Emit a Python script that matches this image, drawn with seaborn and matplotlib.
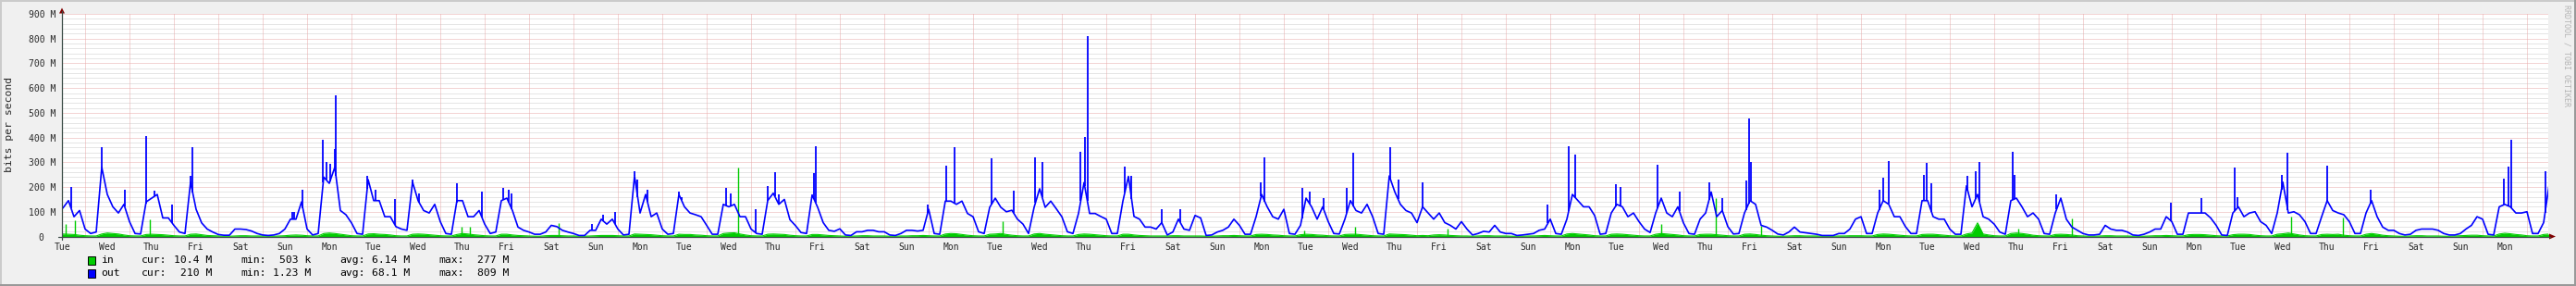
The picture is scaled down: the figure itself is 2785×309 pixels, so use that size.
import numpy as np
import pandas as pd
import matplotlib
matplotlib.use("Agg")
import matplotlib.pyplot as plt
from matplotlib.patches import Rectangle, Polygon
from matplotlib.lines import Line2D
import seaborn as sns

# ---------------- data (values in Mbit/s) ----------------
# samples every 3 hours; day 0 = first Tuesday, samples at 0,3,...,21 h
weekday_names = ["Tue", "Wed", "Thu", "Fri", "Sat", "Sun", "Mon"]

out_head = [110, 115, 145, 80, 105]          # Tue 09..21 h
out_week1 = [30, 12, 18, 280, 170, 120, 95, 130,
             60, 12, 10, 140, 155, 170, 75, 75,
             45, 18, 12, 220, 110, 55, 30, 18,
             8, 5, 5, 30, 30, 28, 22, 12,
             6, 4, 6, 12, 30, 70, 70, 140,
             30, 6, 12, 240, 215, 280, 105, 88,
             55, 12, 9, 230, 145, 145, 80, 80]
out_week2 = [40, 30, 25, 220, 145, 105, 95, 130,
             60, 12, 9, 145, 145, 80, 80, 105,
             50, 12, 18, 145, 155, 105, 38, 25,
             18, 9, 9, 18, 45, 40, 25, 18,
             12, 4, 4, 25, 25, 70, 50, 70,
             30, 6, 9, 245, 95, 170, 80, 95,
             30, 9, 12, 170, 120, 95, 88, 80]
out_week3 = [45, 9, 9, 130, 120, 130, 80, 80,
             30, 12, 9, 145, 175, 130, 150, 68,
             44, 16, 12, 168, 118, 56, 25, 21,
             31, 6, 4, 19, 19, 25, 25, 19,
             19, 6, 4, 12, 25, 25, 22, 25,
             110, 12, 9, 143, 143, 130, 143, 93,
             80, 19, 12, 118, 155, 118, 100, 106]
out_week4 = [70, 50, 12, 118, 193, 118, 143, 112,
             80, 19, 12, 93, 218, 93, 93, 81,
             70, 12, 12, 143, 243, 81, 70, 38,
             38, 30, 56, 6, 18, 70, 30, 25,
             85, 75, 4, 6, 18, 25, 38, 70,
             45, 9, 9, 80, 170, 120, 80, 70,
             110, 12, 9, 45, 155, 120, 70, 120]
out_week5 = [60, 12, 10, 70, 145, 105, 95, 130,
             80, 12, 9, 245, 180, 130, 105, 95,
             56, 120, 95, 70, 95, 56, 45, 30,
             60, 30, 6, 12, 21, 18, 45, 18,
             12, 12, 4, 6, 9, 12, 25, 30,
             70, 12, 9, 70, 170, 145, 120, 120,
             85, 9, 12, 95, 130, 120, 80, 95]
out_week6 = [60, 30, 16, 95, 155, 95, 80, 120,
             55, 12, 9, 70, 95, 180, 80, 105,
             40, 10, 12, 95, 145, 130, 45, 38,
             25, 10, 6, 18, 38, 18, 15, 12,
             9, 4, 4, 4, 12, 12, 30, 70,
             80, 12, 12, 95, 145, 130, 80, 80,
             40, 12, 12, 145, 145, 80, 70, 70]
out_week7 = [30, 9, 9, 205, 120, 170, 80, 70,
             50, 18, 9, 145, 155, 120, 80, 95,
             70, 12, 9, 95, 155, 70, 38, 25,
             12, 6, 6, 9, 45, 30, 25, 25,
             18, 6, 4, 9, 18, 30, 30, 80,
             60, 9, 9, 95, 95, 95, 95, 75,
             45, 6, 4, 95, 120, 80, 95, 100]
out_week8 = [60, 45, 12, 95, 220, 95, 100, 88,
             60, 12, 12, 80, 145, 105, 95, 88,
             60, 12, 12, 95, 145, 80, 38, 25,
             25, 12, 6, 9, 25, 30, 30, 30,
             25, 12, 6, 6, 12, 30, 45, 80,
             70, 9, 6, 120, 130, 120, 95, 95,
             100, 12, 12, 56, 210]

in_head = [8, 10, 9, 8, 5]
in_week1 = [3, 2, 2, 10, 14, 12, 10, 6,
            3, 2, 2, 8, 9, 8, 7, 5,
            3, 2, 2, 9, 10, 7, 4, 3,
            2, 1, 1, 2, 3, 3, 2, 2,
            2, 1, 1, 2, 3, 5, 6, 5,
            3, 2, 2, 12, 14, 12, 9, 6,
            3, 2, 2, 10, 11, 9, 8, 6]
in_week2 = [3, 2, 2, 9, 10, 9, 7, 5,
            3, 2, 2, 8, 12, 10, 7, 5,
            3, 2, 2, 9, 9, 6, 4, 3,
            2, 1, 1, 3, 4, 4, 3, 2,
            2, 1, 1, 2, 3, 4, 4, 4,
            3, 2, 2, 10, 9, 8, 7, 5,
            3, 2, 2, 9, 8, 8, 6, 5]
in_week3 = [3, 2, 2, 12, 14, 15, 10, 6,
            3, 2, 2, 9, 10, 9, 8, 5,
            3, 2, 2, 8, 8, 6, 4, 3,
            2, 1, 1, 2, 3, 3, 2, 2,
            2, 1, 1, 2, 2, 3, 3, 4,
            3, 2, 2, 10, 12, 11, 8, 5,
            3, 2, 2, 9, 10, 12, 8, 5]
in_week4 = [3, 2, 2, 10, 12, 9, 7, 5,
            3, 2, 2, 8, 10, 9, 7, 5,
            3, 2, 2, 9, 9, 6, 4, 3,
            2, 2, 2, 2, 3, 3, 2, 2,
            2, 2, 1, 1, 2, 3, 3, 4,
            3, 2, 2, 8, 9, 8, 6, 5,
            3, 2, 2, 7, 9, 8, 6, 5]
in_week5 = [3, 2, 2, 8, 9, 9, 7, 5,
            3, 2, 2, 10, 9, 8, 7, 5,
            3, 4, 3, 6, 7, 6, 4, 3,
            2, 2, 1, 2, 3, 3, 2, 2,
            2, 1, 1, 1, 2, 2, 3, 4,
            3, 2, 2, 10, 12, 10, 8, 6,
            3, 2, 2, 9, 10, 9, 7, 5]
in_week6 = [3, 2, 2, 9, 12, 10, 8, 6,
            3, 2, 2, 8, 9, 9, 7, 5,
            3, 2, 2, 9, 10, 8, 5, 3,
            2, 1, 1, 2, 3, 3, 2, 2,
            2, 1, 1, 1, 2, 2, 3, 3,
            3, 2, 2, 8, 10, 9, 7, 5,
            3, 2, 2, 8, 9, 9, 7, 5]
in_week7 = [3, 2, 2, 10, 14, 55, 10, 6,
            3, 2, 2, 12, 14, 12, 9, 5,
            3, 2, 2, 8, 9, 8, 6, 3,
            2, 1, 1, 2, 3, 3, 2, 2,
            2, 1, 1, 1, 2, 3, 3, 4,
            3, 2, 2, 7, 8, 8, 7, 5,
            3, 2, 2, 7, 9, 9, 8, 5]
in_week8 = [3, 2, 2, 9, 11, 14, 10, 6,
            3, 2, 2, 8, 9, 8, 9, 5,
            3, 2, 2, 9, 12, 9, 5, 3,
            2, 1, 1, 2, 3, 3, 2, 2,
            2, 1, 1, 2, 3, 4, 5, 5,
            3, 2, 2, 10, 13, 11, 8, 6,
            3, 2, 2, 8, 10]

# short bursts: (day index, hour, value)
out_spike_day = [0, 1, 1, 2, 2, 2, 3, 3, 5, 5, 5, 6, 6, 6, 6, 6, 7, 7, 7, 8, 8, 9, 9,
                 10, 10, 10, 12, 12, 12, 13, 13, 13, 14, 14, 15, 15, 16, 16, 16, 16,
                 17, 17, 19, 20, 20, 21, 21, 22, 22, 23, 23, 23, 24, 24, 25, 25, 27, 27,
                 28, 28, 28, 29, 29, 30, 30, 31, 33, 34, 34, 35, 35, 36, 36, 37, 37,
                 38, 38, 38, 41, 41, 41, 42, 42, 42, 43, 43, 43, 44, 44, 45, 47, 48,
                 49, 49, 50, 50, 51, 52, 55, 55, 55, 56]
out_spike_hour = [16.5, 9.0, 21.3, 8.8, 13.3, 23.0, 9.2, 10.2, 16.0, 17.0, 21.7, 8.7, 10.3,
                  12.3, 14.8, 15.6, 8.5, 12.9, 23.5, 9.2, 12.7, 8.8, 22.5, 10.0, 13.0, 14.7,
                  10.0, 15.8, 22.5, 9.0, 10.7, 16.0, 9.0, 10.3, 10.5, 13.0, 2.3, 9.0, 12.8,
                  14.8, 10.0, 10.8, 23.5, 9.7, 13.8, 9.8, 22.0, 9.7, 13.3, 10.2, 12.3, 13.8,
                  10.0, 13.7, 6.0, 16.0, 11.7, 13.7, 9.8, 13.8, 21.5, 10.0, 13.7, 9.7, 13.8,
                  3.2, 22.7, 10.0, 13.7, 11.3, 13.8, 10.0, 21.8, 13.8, 20.8, 9.8, 11.3, 12.7,
                  9.8, 12.0, 14.8, 10.0, 11.3, 14.2, 9.7, 14.0, 16.0, 9.8, 11.2, 9.7, 23.3,
                  16.0, 9.8, 11.7, 11.3, 14.7, 11.8, 11.3, 11.7, 13.8, 15.5, 9.8]
out_spike_val = [200, 360, 190, 405, 185, 130, 245, 360, 100, 100, 190, 390, 300, 295, 355,
                 570, 245, 190, 150, 230, 175, 215, 180, 195, 190, 175, 50, 88, 100, 265,
                 230, 190, 180, 160, 195, 175, 110, 205, 260, 170, 255, 365, 128, 286, 361,
                 317, 187, 320, 302, 342, 402, 809, 283, 245, 112, 109, 220, 319, 195, 180,
                 155, 195, 340, 360, 230, 220, 130, 365, 330, 212, 200, 291, 180, 220, 155,
                 225, 478, 300, 188, 238, 304, 250, 296, 216, 245, 265, 300, 344, 250, 170,
                 138, 155, 278, 160, 250, 338, 288, 188, 234, 281, 390, 265]

in_spike_day = [0, 0, 2, 9, 9, 11, 15, 21, 28, 29, 31, 36, 37, 38, 44, 45, 50, 51]
in_spike_hour = [13.3, 18.3, 11.2, 11.5, 16.2, 16.2, 17.2, 16.2, 11.0, 14.5, 16.5,
                 12.0, 17.7, 18.0, 12.8, 18.0, 16.3, 20.3]
in_spike_val = [50, 65, 69, 40, 40, 56, 277, 62, 25, 40, 30, 50, 154, 44, 30, 72, 80, 75]

y_ticks = [0, 100, 200, 300, 400, 500, 600, 700, 800, 900]
y_tick_labels = ["0  ", "100 M", "200 M", "300 M", "400 M", "500 M",
                 "600 M", "700 M", "800 M", "900 M"]

legend_names = ["in", "out"]
legend_cur = ["10.4 M", "210 M"]
legend_min = ["503 k", "1.23 M"]
legend_avg = ["6.14 M", "68.1 M"]
legend_max = ["277 M", "809 M"]

# ---------------- assemble ----------------
out_vals = np.array(out_head + out_week1 + out_week2 + out_week3 + out_week4 +
                    out_week5 + out_week6 + out_week7 + out_week8, dtype=float)
in_vals = np.array(in_head + in_week1 + in_week2 + in_week3 + in_week4 +
                   in_week5 + in_week6 + in_week7 + in_week8, dtype=float)
n_body = len(out_vals) - len(out_head)
t = np.concatenate([np.array([9, 12, 15, 18, 21]) / 24.0, 1 + np.arange(n_body) * 0.125])
df = pd.DataFrame({"t": t, "out": out_vals, "in": in_vals})

BACK = "#F0F0F0"
CANVAS = "#FFFFFF"
MINOR = "#CDCDCD"
MAJOR = "#E8AAAA"
AXIS = "#3C4D48"
ARROW = "#7F0000"
BLUE = "#0000FF"
GREEN = "#00CC00"

sns.set_style("white")
plt.rcParams["font.family"] = ["DejaVu Sans Mono"]

W, H = 2785, 309
fig = plt.figure(figsize=(W / 100, H / 100), dpi=100, facecolor=BACK)
X0, X1, YB, YT = 67, 2755, 255.5, 15
ax = fig.add_axes([X0 / W, 1 - YB / H, (X1 - X0) / W, (YB - YT) / H])
ax.set_facecolor(CANVAS)
xmin, xmax = 11.5 / 24, 56 + 11.5 / 24
ax.set_xlim(xmin, xmax)
ax.set_ylim(0, 900)

dot = (0, (1, 1))
for v in range(20, 900, 20):
    if v % 100:
        ax.axhline(v, color=MINOR, lw=0.72, ls=dot, zorder=0.5)
for v in y_ticks[1:]:
    ax.axhline(v, color=MAJOR, lw=0.72, ls=dot, zorder=0.6)
for d in range(1, 57):
    ax.axvline(d, color=MAJOR, lw=0.72, ls=dot, zorder=0.6)

# in: area
ax.fill_between(df["t"], 0, df["in"], color=GREEN, lw=0, zorder=1)
sns.lineplot(data=df, x="t", y="in", ax=ax, color=GREEN, lw=0.8, zorder=1.1)
isx = np.array(in_spike_day) + np.array(in_spike_hour) / 24
ax.vlines(isx, 0, in_spike_val, color=GREEN, lw=1.0, zorder=1.2)

# out: line
sns.lineplot(data=df, x="t", y="out", ax=ax, color=BLUE, lw=1.2, zorder=2)
osx = np.array(out_spike_day) + np.array(out_spike_hour) / 24
obase = np.interp(osx, df["t"], df["out"])
ax.vlines(osx, obase, out_spike_val, color=BLUE, lw=1.3, zorder=2.1)

for s in ax.spines.values():
    s.set_visible(False)
ax.set_xlabel("")
ax.set_ylabel("")
ax.set_yticks(y_ticks)
ax.set_yticklabels(y_tick_labels, fontsize=7, family="DejaVu Sans Mono")
ax.tick_params(axis="y", length=2, width=0.7, color=MAJOR, pad=3)
noons = np.arange(56) + 0.5
ax.set_xticks(noons)
ax.set_xticklabels([weekday_names[i % 7] for i in range(56)], fontsize=7,
                   family="DejaVu Sans Mono")
ax.tick_params(axis="x", length=0, pad=4.5)
ax.set_xticks(np.arange(1, 57), minor=True)
ax.tick_params(axis="x", which="minor", length=2, width=0.7, color=MAJOR)

# axes lines and arrows (figure pixel coordinates)
def P(x, y):
    return (x / W, 1 - y / H)

fig.add_artist(Line2D([P(63, YB)[0], P(2757, YB)[0]], [P(63, YB)[1]] * 2,
                      color=AXIS, lw=0.9))
fig.add_artist(Line2D([P(X0, 259)[0]] * 2, [P(X0, 259)[1], P(X0, 12)[1]],
                      color=AXIS, lw=0.9))
fig.add_artist(Polygon([P(2756, YB - 3), P(2763, YB), P(2756, YB + 3)],
                       closed=True, color=ARROW, lw=0))
fig.add_artist(Polygon([P(X0 - 3, 14.5), P(X0, 8.5), P(X0 + 3, 14.5)],
                       closed=True, color=ARROW, lw=0))

# border shading
fig.add_artist(Rectangle((0, 1 - 2 / H), 1, 2 / H, color="#CBCBCB", lw=0))
fig.add_artist(Rectangle((0, 0), 2 / W, 1, color="#CBCBCB", lw=0))
fig.add_artist(Rectangle((0, 0), 1, 2 / H, color="#999999", lw=0))
fig.add_artist(Rectangle((1 - 2 / W, 0), 2 / W, 1, color="#999999", lw=0))

# y label
fig.text(*P(10.5, 134), "bits per second", rotation=90, ha="center", va="center",
         fontsize=8.2, family="DejaVu Sans Mono")
# watermark
fig.text(*P(2775, 5), "RRDTOOL / TOBI OETIKER", rotation=-90, ha="center", va="top",
         fontsize=6, color="#B4B4B4", family="DejaVu Sans Mono")

# legend
rows_y = [281, 295]
colors = [GREEN, BLUE]
for i in range(2):
    y = rows_y[i]
    fig.add_artist(Rectangle(P(95, y + 4.5), 8 / W, 9 / H, facecolor=colors[i],
                             edgecolor="black", lw=0.7))
    kw = dict(va="center", fontsize=8.2, family="DejaVu Sans Mono", color="black")
    fig.text(*P(109, y), legend_names[i], ha="left", **kw)
    fig.text(*P(153, y), "cur:", ha="left", **kw)
    fig.text(*P(229, y), legend_cur[i], ha="right", **kw)
    fig.text(*P(260, y), "min:", ha="left", **kw)
    fig.text(*P(336, y), legend_min[i], ha="right", **kw)
    fig.text(*P(367, y), "avg:", ha="left", **kw)
    fig.text(*P(443, y), legend_avg[i], ha="right", **kw)
    fig.text(*P(474, y), "max:", ha="left", **kw)
    fig.text(*P(550, y), legend_max[i], ha="right", **kw)

fig.savefig("out.png", dpi=100, facecolor=BACK)
